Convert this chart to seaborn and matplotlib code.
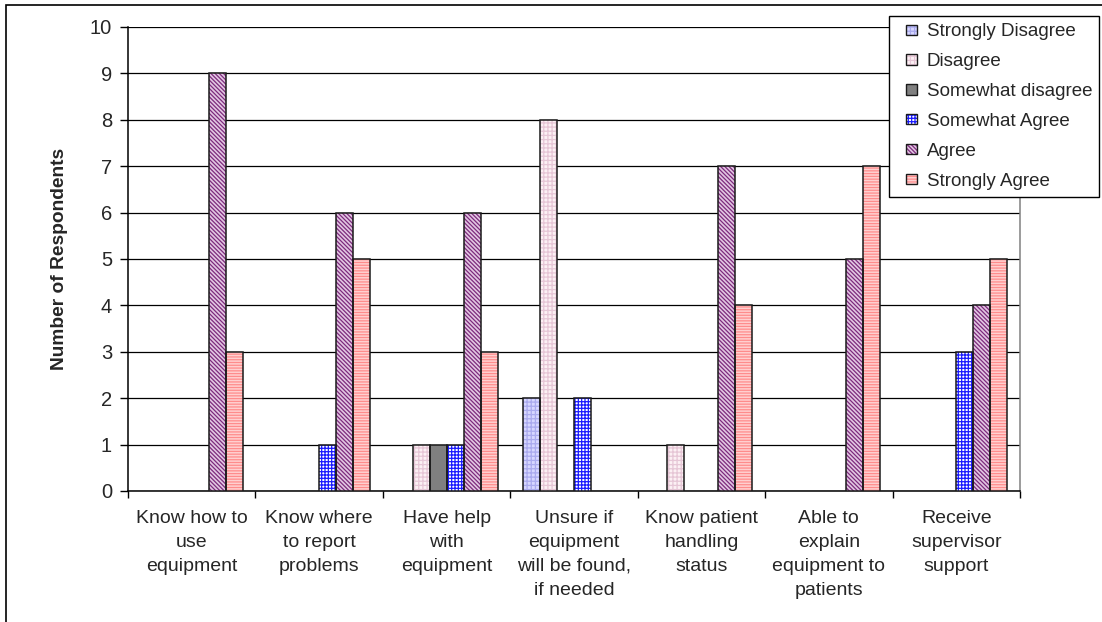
import matplotlib
matplotlib.use("Agg")
import matplotlib.pyplot as plt
from matplotlib.patches import Rectangle, Patch
import pandas as pd
import seaborn as sns

statements = [
    "Know how to\nuse\nequipment",
    "Know where\nto report\nproblems",
    "Have help\nwith\nequipment",
    "Unsure if\nequipment\nwill be found,\nif needed",
    "Know patient\nhandling\nstatus",
    "Able to\nexplain\nequipment to\npatients",
    "Receive\nsupervisor\nsupport",
]
responses = ["Strongly Disagree", "Disagree", "Somewhat disagree",
             "Somewhat Agree", "Agree", "Strongly Agree"]

strongly_disagree = [0, 0, 0, 2, 0, 0, 0]
disagree = [0, 0, 1, 8, 1, 0, 0]
somewhat_disagree = [0, 0, 1, 0, 0, 0, 0]
somewhat_agree = [0, 1, 1, 2, 0, 0, 3]
agree = [9, 6, 6, 0, 7, 5, 4]
strongly_agree = [3, 5, 3, 0, 4, 7, 5]
y_ticks = list(range(0, 11))

series = [strongly_disagree, disagree, somewhat_disagree,
          somewhat_agree, agree, strongly_agree]

# fill colour, hatch colour, hatch pattern for each response level
styles = {
    "Strongly Disagree": ("#d6d6ff", "#aaaaee", "++++"),
    "Disagree": ("#fcf0f4", "#e6c6d6", "++++"),
    "Somewhat disagree": ("#808080", "#808080", ""),
    "Somewhat Agree": ("#ffffff", "#1a1aff", "+++++"),
    "Agree": ("#e2c6e2", "#7d2a7d", "\\" * 8),
    "Strongly Agree": ("#ffd0d0", "#ff8c8c", "------"),
}


class SquareSwatch:
    """Legend handler: small hatched square with a dark outline, right-aligned in its box."""

    def legend_artist(self, legend, orig_handle, fontsize, handlebox):
        s = 0.55 * fontsize
        x0 = handlebox.xdescent + handlebox.width - s
        y0 = handlebox.ydescent + (handlebox.height - s) / 2
        fill = Rectangle((x0, y0), s, s, facecolor=orig_handle.get_facecolor(),
                         edgecolor=orig_handle.get_edgecolor(),
                         hatch=orig_handle.get_hatch(), linewidth=0,
                         transform=handlebox.get_transform())
        edge = Rectangle((x0, y0), s, s, fill=False, edgecolor="#1a1a1a",
                         linewidth=1.0, transform=handlebox.get_transform())
        handlebox.add_artist(fill)
        handlebox.add_artist(edge)
        return fill


rows = []
for resp, vals in zip(responses, series):
    for stmt, v in zip(statements, vals):
        rows.append({"statement": stmt, "response": resp, "count": v})
df = pd.DataFrame(rows)

sns.set_theme(style="white")
plt.rcParams["font.family"] = ["Liberation Sans", "DejaVu Sans"]
plt.rcParams["hatch.linewidth"] = 0.9

fig = plt.figure(figsize=(11.02, 6.22), dpi=100)
ax = fig.add_axes([128 / 1102, 1 - 491 / 622, (1020 - 128) / 1102, (491 - 27) / 622])

sns.barplot(data=df, x="statement", y="count", hue="response",
            order=statements, hue_order=responses,
            palette=[styles[r][0] for r in responses],
            width=0.8, gap=0, saturation=1, legend=False, ax=ax, zorder=3)

for resp, container in zip(responses, ax.containers):
    face, hcol, hatch = styles[resp]
    for bar in container:
        bar.set_facecolor(face)
        bar.set_edgecolor(hcol)
        bar.set_hatch(hatch)
        bar.set_linewidth(0)
        if bar.get_height() > 0:
            ax.add_patch(Rectangle(bar.get_xy(), bar.get_width(), bar.get_height(),
                                   fill=False, edgecolor="#1a1a1a", linewidth=1.1,
                                   zorder=4))

ax.set_ylim(0, 10)
ax.set_xlim(-0.5, len(statements) - 0.5)
ax.set_yticks(y_ticks)
ax.yaxis.grid(True, color="#000000", linewidth=0.9)
ax.set_axisbelow(True)

ax.set_xticks(range(len(statements)))
ax.set_xticklabels(statements, fontsize=14, linespacing=1.52)
ax.set_xticks([i - 0.5 for i in range(len(statements) + 1)], minor=True)
ax.tick_params(axis="x", which="major", length=0, pad=14)
ax.tick_params(axis="x", which="minor", length=5, width=1, color="#000000",
               direction="out", bottom=True)
ax.tick_params(axis="y", length=6, width=1, color="#000000", direction="out",
               left=True, labelsize=14.5, pad=5.5)

ax.set_xlabel("")
ax.set_ylabel("Number of Respondents", fontsize=13.8, fontweight="bold", labelpad=16)

for side in ["left", "bottom"]:
    ax.spines[side].set_color("#000000")
    ax.spines[side].set_linewidth(1.1)
ax.spines["top"].set_visible(False)
ax.spines["right"].set_color("#808080")
ax.spines["right"].set_linewidth(1.1)

handles = [Patch(facecolor=styles[r][0], edgecolor=styles[r][1], hatch=styles[r][2])
           for r in responses]

leg = fig.legend(handles, responses, loc="upper left",
                 bbox_to_anchor=(889 / 1102, 1 - 16 / 622),
                 handler_map={Patch: SquareSwatch()},
                 fontsize=13.5, frameon=True, fancybox=False, framealpha=1,
                 edgecolor="#000000", handlelength=1.1, handleheight=0.7,
                 handletextpad=0.53, labelspacing=0.68, borderpad=0.38,
                 borderaxespad=0)
leg.get_frame().set_linewidth(1.0)

fig.patches.append(Rectangle((6 / 1102, -0.1), 2, 1.1 - 4.5 / 622,
                             transform=fig.transFigure, fill=False,
                             edgecolor="#000000", linewidth=1.2))

fig.savefig("out.png", dpi=100)
